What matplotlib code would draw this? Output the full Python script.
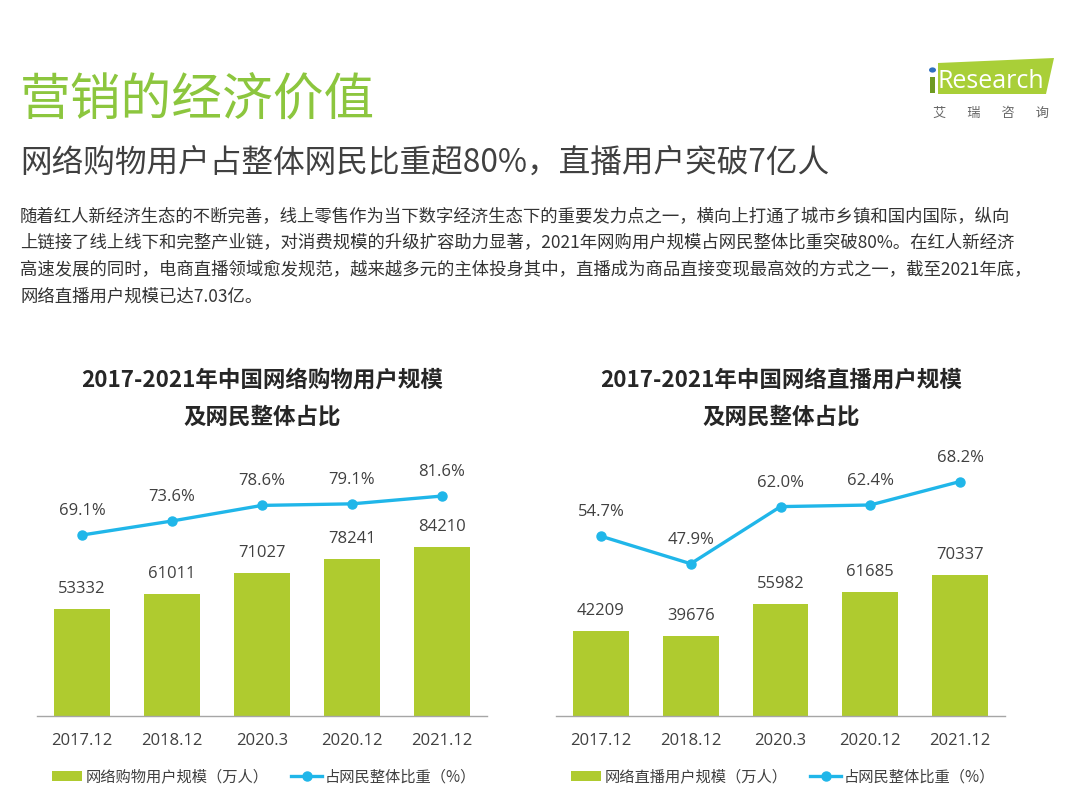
import matplotlib
matplotlib.use("Agg")
import matplotlib.pyplot as plt
from matplotlib.patches import Polygon, Circle, Rectangle

plt.rcParams['font.family'] = ['Noto Sans CJK SC', 'DejaVu Sans']

W, H = 1074, 805

# ---------------- data ----------------
categories = ["2017.12", "2018.12", "2020.3", "2020.12", "2021.12"]
shop_users = [53332, 61011, 71027, 78241, 84210]
shop_ratio = [69.1, 73.6, 78.6, 79.1, 81.6]
live_users = [42209, 39676, 55982, 61685, 70337]
live_ratio = [54.7, 47.9, 62.0, 62.4, 68.2]

title = "营销的经济价值"
subtitle = "网络购物用户占整体网民比重超80%，直播用户突破7亿人"
body_lines = [
    "随着红人新经济生态的不断完善，线上零售作为当下数字经济生态下的重要发力点之一，横向上打通了城市乡镇和国内国际，纵向",
    "上链接了线上线下和完整产业链，对消费规模的升级扩容助力显著，2021年网购用户规模占网民整体比重突破80%。在红人新经济",
    "高速发展的同时，电商直播领域愈发规范，越来越多元的主体投身其中，直播成为商品直接变现最高效的方式之一，截至2021年底，",
    "网络直播用户规模已达7.03亿。",
]
chart_titles = [("2017-2021年中国网络购物用户规模", "及网民整体占比"),
                ("2017-2021年中国网络直播用户规模", "及网民整体占比")]
bar_legends = ["网络购物用户规模（万人）", "网络直播用户规模（万人）"]
line_legend = "占网民整体比重（%）"

BAR_C = "#AFCB2F"
LINE_C = "#20B6E9"
TXT_C = "#404040"
GREEN = "#8CC63E"

fig = plt.figure(figsize=(W / 100, H / 100), dpi=100)
fig.patch.set_facecolor("white")


def fx(x):
    return x / W


def fy(y):
    return 1 - y / H


NUMF = ['Open Sans', 'Noto Sans CJK SC']

# ---------------- header ----------------
fig.text(fx(20), fy(101), title, color=GREEN, fontsize=36.5, va="center", ha="left", fontweight="light")
fig.text(fx(20), fy(163), subtitle, color=TXT_C, fontsize=22.8, va="center", ha="left", fontweight="light")
for i, ln in enumerate(body_lines):
    fig.text(fx(20), fy(217 + i * 26.5), ln, color="#333333", fontsize=12.5, va="center", ha="left")

# logo
logo = Polygon([[fx(938), fy(63)], [fx(1054), fy(58)], [fx(1046), fy(94)], [fx(938), fy(94)]],
               closed=True, transform=fig.transFigure, facecolor="#A9CF38", edgecolor="none")
fig.patches.append(logo)
fig.patches.append(Rectangle((fx(930), fy(93)), 5 / W, 16 / H, transform=fig.transFigure,
                             facecolor="#6E9A22", edgecolor="none"))
fig.patches.append(Circle((fx(932.5), fy(70)), 3.5 / W, transform=fig.transFigure,
                          facecolor="#2E6FC0", edgecolor="none"))
fig.text(fx(937), fy(81), "Research", color="white", fontsize=18, va="center", ha="left", family=NUMF)
fig.text(fx(991), fy(113), "艾       瑞       咨       询", color="#666666", fontsize=9.5,
         va="center", ha="center")


# ---------------- charts ----------------
def make_chart(x0, x1, users, ratio, r_v0, r_k, titles, bar_leg, cx):
    top, bottom = 440, 716
    ax = fig.add_axes([fx(x0), fy(bottom), (x1 - x0) / W, (bottom - top) / H])
    xs = list(range(len(categories)))
    bpx = 169 / 84210.0
    ax.set_ylim(0, (bottom - top) / bpx)
    ax.set_xlim(-0.5, len(categories) - 0.5)
    bars = ax.bar(xs, users, width=0.62, color=BAR_C, zorder=2)
    for s in ["top", "right", "left"]:
        ax.spines[s].set_visible(False)
    ax.spines["bottom"].set_color("#A6A6A6")
    ax.spines["bottom"].set_linewidth(1.0)
    ax.set_yticks([])
    ax.set_xticks(xs)
    ax.set_xticklabels(categories, fontsize=12, color=TXT_C, family=NUMF)
    ax.tick_params(axis="x", length=0, pad=12)
    for x, v in zip(xs, users):
        ax.annotate(f"{v}", (x, v), xytext=(0, 20), textcoords="offset pixels",
                    ha="center", va="center", fontsize=12, color=TXT_C, family=NUMF)

    ax2 = ax.twinx()
    ax2.set_ylim(r_v0, r_v0 + (bottom - top) / r_k)
    ax2.axis("off")
    ln, = ax2.plot(xs, ratio, color=LINE_C, lw=2.4, marker="o", markersize=6.5, zorder=3)
    for x, v in zip(xs, ratio):
        ax2.annotate(f"{v:.1f}%", (x, v), xytext=(0, 24), textcoords="offset pixels",
                     ha="center", va="center", fontsize=12, color=TXT_C, family=NUMF)

    fig.text(fx(cx), fy(380), titles[0], fontsize=16.2, fontweight="bold", color="#262626",
             ha="center", va="center")
    fig.text(fx(cx), fy(417), titles[1], fontsize=16.2, fontweight="bold", color="#262626",
             ha="center", va="center")

    fig.legend([bars, ln], [bar_leg, line_legend], ncol=2, loc="center",
               bbox_to_anchor=(fx(cx + 2), fy(777)), frameon=False, fontsize=11,
               handlelength=2.0, handletextpad=0.2, columnspacing=1.5,
               labelcolor=TXT_C, handleheight=0.6)


make_chart(37, 487, shop_users, shop_ratio, 11.1, 3.12, chart_titles[0], bar_legends[0], 262)
make_chart(556, 1005, live_users, live_ratio, 10.3, 4.05, chart_titles[1], bar_legends[1], 781)

fig.savefig("out.png", dpi=100, facecolor="white")
